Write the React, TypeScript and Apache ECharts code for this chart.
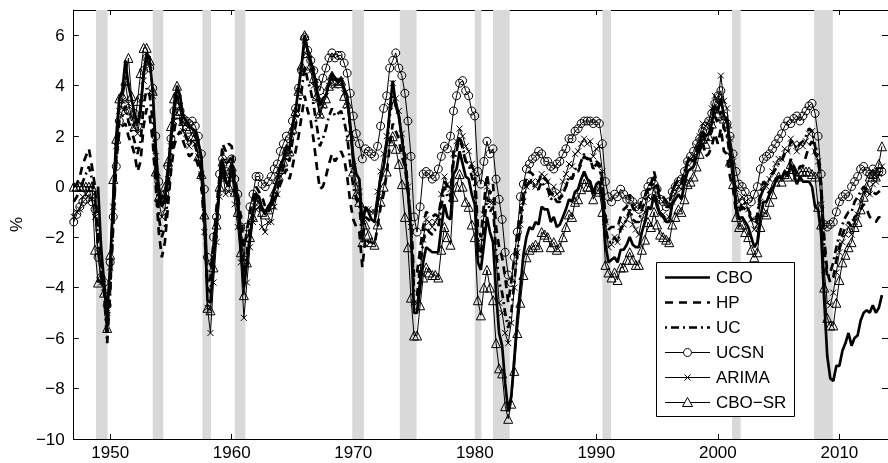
import React, { useEffect, useRef } from "react";
import * as echarts from "echarts";

const START_YEAR = 1947;
const X_MIN = 1947;
const X_MAX = 2014;
const Y_MIN = -10;
const Y_MAX = 7;
const X_TICKS = [1950, 1960, 1970, 1980, 1990, 2000, 2010];
const Y_TICKS = [-10, -8, -6, -4, -2, 0, 2, 4, 6];

const RECESSIONS: [number, number][] = [
  [1948.833, 1949.79], [1953.5, 1954.375], [1957.583, 1958.29], [1960.25, 1961.125],
  [1969.917, 1970.875], [1973.833, 1975.21], [1980.0, 1980.54], [1981.5, 1982.875],
  [1990.5, 1991.21], [2001.167, 2001.875], [2007.917, 2009.46],
];

// quarterly values, 1947Q1 .. 2013Q3
const cbo: (number | null)[] = [
  null, null, null, null, // 1947
  null, null, null, null, // 1948
  0.0, -2.4, -3.8, -5.2, // 1949
  -3.0, -0.5, 2.0, 3.5, // 1950
  3.8, 5.0, 4.0, 3.5, // 1951
  2.9, 2.5, 3.0, 4.5, // 1952
  5.3, 5.0, 3.8, 1.5, // 1953
  -0.2, -0.8, -0.5, 0.5, // 1954
  1.8, 3.0, 4.0, 3.6, // 1955
  2.8, 2.6, 2.4, 2.3, // 1956
  2.2, 1.7, 1.2, -1.0, // 1957
  -4.5, -4.6, -3.0, -1.5, // 1958
  0.0, 1.0, 0.2, 0.0, // 1959
  0.9, 0.0, -0.8, -2.5, // 1960
  -4.0, -3.0, -2.0, -1.0, // 1961
  -0.3, -0.4, -0.9, -1.0, // 1962
  -0.8, -0.6, -0.1, 0.3, // 1963
  0.8, 1.1, 1.6, 1.5, // 1964
  2.4, 3.0, 3.9, 4.8, // 1965
  6.0, 5.4, 5.0, 4.5, // 1966
  3.9, 3.2, 3.5, 3.6, // 1967
  4.1, 4.5, 4.3, 4.2, // 1968
  4.3, 3.9, 3.6, 2.5, // 1969
  1.2, 0.5, 0.3, -1.5, // 1970
  -0.8, -1.0, -1.3, -1.4, // 1971
  -0.6, 0.4, 0.8, 1.7, // 1972
  3.0, 4.2, 3.2, 2.8, // 1973
  1.9, 1.0, -0.2, -1.8, // 1974
  -5.0, -5.0, -4.0, -3.0, // 1975
  -2.4, -2.5, -2.6, -2.6, // 1976
  -2.6, -1.6, -0.7, -1.2, // 1977
  -1.3, 0.5, 0.7, 1.4, // 1978
  0.9, 0.4, 0.3, -0.3, // 1979
  -0.7, -3.0, -3.3, -2.3, // 1980
  -1.2, -1.8, -2.2, -4.2, // 1981
  -5.8, -6.3, -7.8, -8.9, // 1982
  -8.3, -6.8, -5.2, -4.0, // 1983
  -2.7, -2.0, -1.6, -1.7, // 1984
  -1.4, -1.5, -0.8, -0.9, // 1985
  -0.9, -1.4, -1.2, -1.6, // 1986
  -1.5, -1.2, -0.9, -0.5, // 1987
  -0.6, -0.2, -0.1, 0.3, // 1988
  0.6, 0.3, 0.2, -0.3, // 1989
  0.1, 0.2, -0.5, -2.3, // 1990
  -3.0, -2.9, -2.8, -3.0, // 1991
  -2.5, -2.5, -2.3, -2.0, // 1992
  -2.3, -2.4, -2.4, -1.8, // 1993
  -1.4, -0.8, -0.9, -0.3, // 1994
  -0.8, -1.1, -1.2, -1.4, // 1995
  -1.4, -0.7, -0.5, -0.3, // 1996
  -0.5, 0.1, 0.6, 0.7, // 1997
  0.8, 1.2, 1.6, 2.2, // 1998
  2.0, 2.1, 2.5, 3.2, // 1999
  3.0, 3.5, 2.8, 2.7, // 2000
  1.5, 0.6, -0.8, -1.3, // 2001
  -1.2, -1.4, -1.6, -2.0, // 2002
  -2.4, -2.2, -1.2, -0.6, // 2003
  -0.6, -0.3, -0.1, 0.2, // 2004
  0.4, 0.3, 0.6, 0.4, // 2005
  0.9, 0.5, 0.1, 0.4, // 2006
  0.2, 0.2, 0.2, 0.0, // 2007
  -0.8, -0.9, -1.9, -4.5, // 2008
  -6.7, -7.6, -7.7, -7.1, // 2009
  -7.1, -6.5, -6.2, -5.8, // 2010
  -6.3, -6.0, -5.9, -5.3, // 2011
  -5.0, -4.9, -5.0, -4.7, // 2012
  -5.0, -4.8, -4.3, // 2013
];

const hp: number[] = [
  0.0, 0.1, 0.4, 0.9, // 1947
  1.2, 1.5, 0.8, 0.0, // 1948
  -1.8, -3.0, -4.0, -5.8, // 1949
  -4.0, -1.5, 1.0, 2.2, // 1950
  2.4, 2.5, 2.0, 1.7, // 1951
  1.3, 0.6, 1.0, 2.4, // 1952
  3.1, 2.8, 1.8, 0.0, // 1953
  -1.8, -2.8, -2.2, -0.8, // 1954
  0.6, 1.6, 2.0, 2.2, // 1955
  1.8, 1.5, 1.2, 1.3, // 1956
  1.2, 0.8, 0.2, -1.8, // 1957
  -3.8, -3.6, -2.2, -0.8, // 1958
  0.4, 1.7, 1.4, 1.7, // 1959
  1.6, 0.4, -0.3, -1.2, // 1960
  -2.4, -1.8, -1.0, -0.5, // 1961
  0.0, -0.2, -0.4, -0.8, // 1962
  -1.0, -0.7, -0.5, -0.3, // 1963
  0.1, 0.4, 0.7, 0.3, // 1964
  0.8, 1.4, 2.0, 2.8, // 1965
  3.6, 3.0, 2.6, 1.8, // 1966
  0.8, -0.1, 0.0, 0.4, // 1967
  0.9, 1.3, 1.0, 1.2, // 1968
  1.4, 1.1, 0.4, -0.6, // 1969
  -1.3, -1.6, -1.8, -3.2, // 1970
  -2.0, -2.2, -2.2, -2.3, // 1971
  -1.6, -0.8, -0.3, 0.5, // 1972
  1.6, 2.5, 2.2, 1.9, // 1973
  1.2, 0.8, -0.2, -1.4, // 1974
  -3.6, -3.4, -2.5, -1.6, // 1975
  -1.0, -1.1, -1.2, -1.1, // 1976
  -1.2, -0.4, 0.2, 0.0, // 1977
  -0.4, 1.4, 1.6, 2.0, // 1978
  1.5, 1.0, 1.0, 0.8, // 1979
  0.6, -1.6, -2.0, -0.7, // 1980
  0.5, -0.3, 0.1, -1.6, // 1981
  -2.4, -2.8, -3.6, -4.6, // 1982
  -3.8, -2.8, -1.8, -1.0, // 1983
  -0.2, 0.4, 0.6, 0.5, // 1984
  0.3, 0.2, 0.5, 0.3, // 1985
  0.2, -0.3, -0.3, -0.3, // 1986
  -0.5, -0.2, 0.0, 0.4, // 1987
  0.3, 0.6, 0.6, 0.9, // 1988
  1.2, 1.1, 1.1, 0.7, // 1989
  1.0, 0.9, 0.3, -1.2, // 1990
  -1.7, -1.6, -1.6, -1.6, // 1991
  -1.2, -0.9, -0.8, -0.3, // 1992
  -0.8, -1.0, -0.9, -0.5, // 1993
  -0.4, 0.1, 0.1, 0.6, // 1994
  0.1, -0.3, -0.4, -0.6, // 1995
  -0.7, -0.1, 0.1, 0.3, // 1996
  0.1, 0.5, 0.9, 1.1, // 1997
  1.0, 1.2, 1.4, 1.8, // 1998
  1.2, 1.3, 1.6, 2.1, // 1999
  1.7, 2.3, 1.4, 1.3, // 2000
  0.4, -0.1, -1.0, -1.3, // 2001
  -0.8, -0.9, -1.0, -1.3, // 2002
  -1.5, -1.3, -0.4, -0.1, // 2003
  -0.3, -0.2, 0.0, 0.2, // 2004
  0.4, 0.4, 0.6, 0.5, // 2005
  1.1, 0.8, 0.5, 0.8, // 2006
  0.8, 1.2, 1.6, 1.8, // 2007
  1.3, 1.1, 0.1, -2.0, // 2008
  -3.4, -3.8, -3.6, -2.9, // 2009
  -2.4, -1.9, -1.6, -1.4, // 2010
  -1.6, -1.2, -1.1, -0.9, // 2011
  -0.7, -0.9, -1.2, -1.3, // 2012
  -1.4, -1.2, -1.3, // 2013
];

const uc: number[] = [
  -0.6, -0.4, -0.2, 0.2, // 1947
  0.5, 0.8, 0.3, -0.4, // 1948
  -2.4, -3.4, -4.2, -6.2, // 1949
  -4.2, -1.4, 1.2, 2.6, // 1950
  2.8, 3.2, 2.6, 2.2, // 1951
  1.8, 1.3, 1.8, 3.2, // 1952
  3.9, 3.6, 2.6, 0.6, // 1953
  -1.2, -2.0, -1.6, -0.2, // 1954
  1.2, 2.2, 2.8, 2.7, // 1955
  2.2, 2.0, 1.7, 1.8, // 1956
  1.6, 1.2, 0.6, -1.5, // 1957
  -4.0, -4.2, -2.6, -1.2, // 1958
  0.2, 1.4, 0.9, 1.0, // 1959
  1.2, 0.2, -0.5, -1.8, // 1960
  -3.4, -2.6, -1.6, -1.0, // 1961
  -0.4, -0.5, -0.8, -1.1, // 1962
  -1.0, -0.8, -0.5, -0.1, // 1963
  0.4, 0.8, 1.2, 1.0, // 1964
  1.8, 2.4, 3.0, 3.8, // 1965
  4.8, 4.2, 3.8, 3.2, // 1966
  2.4, 1.6, 1.9, 2.3, // 1967
  2.8, 3.1, 2.8, 2.9, // 1968
  3.0, 2.6, 2.0, 0.9, // 1969
  0.0, -0.5, -0.7, -2.2, // 1970
  -1.2, -1.3, -1.4, -1.4, // 1971
  -0.7, 0.2, 0.8, 1.6, // 1972
  2.8, 3.6, 3.2, 2.8, // 1973
  2.0, 1.2, 0.0, -1.4, // 1974
  -4.2, -4.3, -3.2, -2.2, // 1975
  -1.6, -1.8, -1.9, -1.7, // 1976
  -1.6, -0.8, 0.0, -0.4, // 1977
  -0.6, 1.0, 1.4, 2.0, // 1978
  1.6, 1.0, 0.9, 0.4, // 1979
  0.0, -2.4, -2.8, -1.6, // 1980
  -0.4, -1.0, -0.8, -2.6, // 1981
  -3.8, -4.2, -5.0, -5.6, // 1982
  -5.0, -3.8, -2.6, -1.6, // 1983
  -0.6, 0.0, 0.2, 0.1, // 1984
  -0.1, -0.1, 0.2, 0.0, // 1985
  -0.1, -0.5, -0.4, -0.6, // 1986
  -0.6, -0.3, 0.0, 0.4, // 1987
  0.3, 0.7, 0.7, 1.0, // 1988
  1.3, 1.1, 1.1, 0.7, // 1989
  0.9, 0.8, 0.0, -1.6, // 1990
  -2.2, -2.2, -2.0, -2.2, // 1991
  -1.7, -1.5, -1.3, -0.9, // 1992
  -1.3, -1.4, -1.4, -0.9, // 1993
  -0.6, -0.1, -0.1, 0.4, // 1994
  -0.1, -0.5, -0.6, -0.8, // 1995
  -0.8, -0.2, 0.1, 0.3, // 1996
  0.2, 0.6, 1.0, 1.2, // 1997
  1.2, 1.4, 1.7, 2.1, // 1998
  1.8, 1.9, 2.2, 2.8, // 1999
  2.5, 3.0, 2.3, 2.1, // 2000
  1.1, 0.4, -0.6, -1.0, // 2001
  -0.6, -0.7, -0.9, -1.2, // 2002
  -1.4, -1.1, -0.2, 0.2, // 2003
  0.1, 0.3, 0.5, 0.7, // 2004
  0.9, 1.0, 1.3, 1.3, // 2005
  1.8, 1.7, 1.5, 1.7, // 2006
  1.8, 2.0, 2.3, 2.2, // 2007
  1.6, 1.2, -0.2, -2.4, // 2008
  -3.6, -3.4, -3.0, -2.4, // 2009
  -1.9, -1.5, -1.2, -1.0, // 2010
  -1.0, -0.6, -0.4, -0.2, // 2011
  0.0, -0.1, -0.3, -0.2, // 2012
  -0.3, -0.2, -0.1, // 2013
];

const ucsn: number[] = [
  -1.4, -1.1, -0.8, -0.6, // 1947
  -0.5, -0.3, -0.6, -0.9, // 1948
  -2.8, -3.6, -3.8, -4.7, // 1949
  -3.0, -1.2, 0.8, 2.6, // 1950
  3.0, 3.2, 3.0, 2.6, // 1951
  2.9, 2.4, 3.5, 4.6, // 1952
  5.1, 4.7, 3.9, 2.0, // 1953
  0.2, -0.5, -0.3, 0.8, // 1954
  1.9, 3.0, 3.6, 3.0, // 1955
  2.7, 2.6, 2.5, 2.6, // 1956
  2.4, 2.0, 1.3, -0.1, // 1957
  -2.8, -3.2, -2.0, -1.2, // 1958
  0.5, 1.1, 0.6, 0.5, // 1959
  1.1, 0.3, -0.3, -1.6, // 1960
  -2.9, -1.6, -0.8, -0.3, // 1961
  0.4, 0.4, 0.1, 0.0, // 1962
  0.2, 0.4, 0.7, 0.9, // 1963
  1.4, 1.7, 2.0, 1.9, // 1964
  2.6, 3.1, 3.9, 4.6, // 1965
  5.9, 5.4, 5.0, 4.6, // 1966
  4.1, 3.8, 4.3, 4.7, // 1967
  5.1, 5.3, 5.1, 5.2, // 1968
  5.2, 4.9, 4.5, 3.7, // 1969
  2.8, 2.1, 1.7, 1.1, // 1970
  1.5, 1.4, 1.3, 1.2, // 1971
  1.6, 2.4, 3.1, 3.6, // 1972
  4.7, 5.0, 5.3, 4.7, // 1973
  4.4, 3.7, 2.6, 1.2, // 1974
  -1.2, -1.8, -0.8, 0.5, // 1975
  0.6, 0.5, 0.3, 0.4, // 1976
  0.7, 1.2, 1.6, 1.5, // 1977
  2.0, 3.0, 3.6, 4.1, // 1978
  4.2, 3.8, 3.6, 3.0, // 1979
  2.8, 0.6, 0.1, 1.0, // 1980
  1.8, 1.3, 1.5, 0.3, // 1981
  -0.5, -1.3, -2.6, -3.5, // 1982
  -3.8, -2.8, -1.8, -0.4, // 1983
  0.1, 0.7, 0.9, 1.1, // 1984
  1.2, 1.4, 1.3, 1.0, // 1985
  1.0, 0.8, 0.7, 0.9, // 1986
  1.0, 1.3, 1.5, 1.9, // 1987
  1.9, 2.2, 2.3, 2.5, // 1988
  2.6, 2.6, 2.6, 2.5, // 1989
  2.6, 2.5, 1.7, 0.2, // 1990
  -0.4, -0.6, -0.3, -0.4, // 1991
  -0.1, -0.3, -0.5, -0.5, // 1992
  -0.6, -0.8, -0.9, -0.6, // 1993
  -0.3, 0.0, 0.2, 0.1, // 1994
  -0.1, -0.5, -0.6, -0.8, // 1995
  -0.6, -0.2, 0.0, 0.2, // 1996
  0.3, 0.6, 1.0, 1.2, // 1997
  1.4, 1.7, 1.9, 2.2, // 1998
  2.4, 2.6, 2.9, 3.3, // 1999
  3.6, 3.8, 2.8, 2.5, // 2000
  2.0, 1.3, 0.6, 0.1, // 2001
  0.0, -0.2, -0.5, -0.6, // 2002
  -0.3, 0.0, 0.7, 1.1, // 2003
  1.2, 1.3, 1.5, 1.7, // 2004
  1.9, 2.1, 2.4, 2.6, // 2005
  2.5, 2.7, 2.8, 2.6, // 2006
  2.8, 3.0, 3.2, 3.3, // 2007
  2.9, 2.0, 0.5, -1.5, // 2008
  -1.6, -1.5, -1.4, -1.0, // 2009
  -0.6, -0.4, -0.3, -0.4, // 2010
  0.0, 0.2, 0.4, 0.7, // 2011
  0.8, 0.6, 0.5, 0.7, // 2012
  0.5, 0.6, 0.6, // 2013
];

const arima: number[] = [
  -1.2, -1.0, -0.9, -0.4, // 1947
  -0.3, -0.1, -0.5, -1.2, // 1948
  -2.6, -3.8, -4.0, -5.0, // 1949
  -3.2, -0.8, 1.6, 3.0, // 1950
  3.4, 4.1, 3.3, 2.8, // 1951
  2.4, 2.1, 2.8, 4.2, // 1952
  5.0, 4.8, 3.6, 1.2, // 1953
  -0.6, -1.2, -0.9, 0.3, // 1954
  1.6, 2.6, 3.6, 3.2, // 1955
  2.2, 1.9, 1.6, 1.8, // 1956
  1.7, 1.2, 0.5, -1.8, // 1957
  -4.8, -5.8, -3.8, -2.2, // 1958
  -0.4, 0.6, -0.3, -0.2, // 1959
  0.6, -0.7, -1.6, -3.0, // 1960
  -5.2, -3.8, -2.4, -1.4, // 1961
  -0.9, -0.8, -1.6, -1.8, // 1962
  -1.4, -1.4, -0.8, -0.3, // 1963
  0.4, 0.7, 1.3, 1.3, // 1964
  2.2, 2.9, 3.8, 4.6, // 1965
  5.8, 5.2, 4.6, 4.0, // 1966
  3.4, 2.8, 3.2, 3.6, // 1967
  4.0, 4.3, 4.0, 4.1, // 1968
  4.2, 3.7, 3.2, 2.1, // 1969
  0.8, 0.1, -0.2, -2.0, // 1970
  -0.9, -0.9, -1.0, -1.0, // 1971
  -0.2, 0.6, 1.3, 2.0, // 1972
  3.2, 4.1, 3.5, 3.0, // 1973
  2.1, 1.2, 0.0, -1.6, // 1974
  -4.6, -4.6, -3.4, -2.1, // 1975
  -1.3, -1.4, -1.6, -1.4, // 1976
  -1.2, -0.3, 0.4, 0.1, // 1977
  -0.1, 1.3, 1.8, 2.3, // 1978
  2.0, 1.6, 1.4, 0.9, // 1979
  0.5, -2.2, -2.5, -1.1, // 1980
  0.0, -0.6, -0.6, -2.8, // 1981
  -4.6, -5.0, -5.8, -6.2, // 1982
  -5.4, -4.0, -2.6, -1.5, // 1983
  -0.6, 0.0, 0.2, 0.2, // 1984
  0.0, 0.2, 0.5, 0.4, // 1985
  0.2, -0.3, 0.0, -0.3, // 1986
  -0.2, 0.2, 0.5, 0.9, // 1987
  0.8, 1.3, 1.4, 1.7, // 1988
  1.9, 1.7, 1.8, 1.2, // 1989
  1.5, 1.6, 0.6, -1.4, // 1990
  -2.4, -2.3, -2.0, -2.2, // 1991
  -1.6, -1.5, -1.3, -1.0, // 1992
  -1.5, -1.7, -1.9, -1.3, // 1993
  -1.0, -0.4, -0.5, 0.0, // 1994
  -0.5, -1.0, -1.1, -1.3, // 1995
  -1.2, -0.6, -0.3, 0.0, // 1996
  -0.1, 0.4, 0.9, 1.1, // 1997
  1.2, 1.6, 2.0, 2.5, // 1998
  2.4, 2.6, 3.1, 3.6, // 1999
  3.3, 4.4, 3.4, 3.1, // 2000
  1.9, 1.0, -0.1, -0.6, // 2001
  -0.4, -0.6, -0.9, -1.3, // 2002
  -1.7, -1.5, -0.6, 0.0, // 2003
  0.0, 0.3, 0.6, 0.9, // 2004
  1.1, 1.1, 1.5, 1.4, // 2005
  1.9, 1.7, 1.4, 1.7, // 2006
  1.6, 1.8, 2.1, 2.2, // 2007
  1.4, 1.0, -0.7, -3.3, // 2008
  -4.6, -4.7, -4.2, -3.4, // 2009
  -2.6, -2.2, -1.9, -1.6, // 2010
  -1.9, -1.4, -1.1, -0.6, // 2011
  -0.2, -0.2, -0.3, 0.1, // 2012
  0.2, 0.5, 0.8, // 2013
];

const cboSr: number[] = [
  0.0, 0.0, 0.0, 0.0, // 1947
  0.0, 0.0, 0.0, -2.5, // 1948
  -3.8, -3.6, -4.2, -5.6, // 1949
  -2.7, 0.3, 1.9, 3.5, // 1950
  3.6, 4.2, 5.1, 3.6, // 1951
  2.4, 3.4, 4.5, 5.5, // 1952
  5.5, 5.0, 3.8, 0.6, // 1953
  -0.4, -0.5, 0.0, 1.0, // 1954
  2.4, 3.5, 4.0, 3.0, // 1955
  2.6, 2.4, 2.3, 2.0, // 1956
  2.0, 1.2, 0.5, -1.1, // 1957
  -4.8, -4.9, -3.2, -1.5, // 1958
  0.0, 1.0, 0.4, 0.0, // 1959
  0.8, -0.2, -1.0, -2.6, // 1960
  -4.3, -3.0, -2.0, -1.2, // 1961
  -0.4, -0.7, -1.0, -1.1, // 1962
  -0.9, -0.7, -0.2, 0.3, // 1963
  0.7, 1.0, 1.5, 1.4, // 1964
  2.3, 3.0, 3.8, 4.8, // 1965
  6.0, 5.3, 4.8, 4.3, // 1966
  3.6, 2.9, 3.3, 3.5, // 1967
  4.0, 4.4, 4.2, 4.1, // 1968
  4.2, 3.6, 3.3, 2.0, // 1969
  0.6, -0.3, -0.6, -2.2, // 1970
  -1.5, -1.9, -2.2, -2.3, // 1971
  -1.5, -0.6, 0.0, 0.6, // 1972
  1.8, 2.0, 1.5, 0.9, // 1973
  0.1, -1.2, -2.4, -4.4, // 1974
  -5.9, -5.9, -4.7, -3.6, // 1975
  -3.2, -3.4, -3.5, -3.5, // 1976
  -3.6, -2.5, -1.6, -2.0, // 1977
  -2.3, -0.4, 0.0, 0.5, // 1978
  0.0, -0.6, -0.8, -1.5, // 1979
  -2.0, -4.5, -5.1, -4.0, // 1980
  -3.3, -4.0, -4.5, -6.2, // 1981
  -7.2, -7.4, -8.7, -9.2, // 1982
  -8.6, -7.3, -5.8, -4.6, // 1983
  -3.5, -2.8, -2.5, -2.4, // 1984
  -2.3, -2.4, -1.8, -1.9, // 1985
  -2.0, -2.4, -2.2, -2.5, // 1986
  -2.4, -2.0, -1.6, -1.1, // 1987
  -1.2, -0.6, -0.5, -0.1, // 1988
  0.3, 0.0, 0.0, -0.5, // 1989
  -0.1, -0.2, -1.0, -3.1, // 1990
  -3.4, -3.6, -3.4, -3.7, // 1991
  -3.2, -3.2, -2.9, -2.6, // 1992
  -2.9, -3.1, -3.1, -2.5, // 1993
  -2.1, -1.4, -1.6, -1.0, // 1994
  -1.5, -1.9, -2.0, -2.1, // 1995
  -2.2, -1.5, -1.2, -0.9, // 1996
  -1.0, -0.5, 0.1, 0.2, // 1997
  0.4, 0.8, 1.3, 1.9, // 1998
  1.7, 2.0, 2.5, 3.1, // 1999
  2.9, 3.5, 2.7, 2.5, // 2000
  1.0, 0.1, -1.2, -1.6, // 2001
  -1.5, -1.8, -2.0, -2.5, // 2002
  -2.8, -2.6, -1.6, -1.0, // 2003
  -1.1, -0.6, -0.3, 0.2, // 2004
  0.4, 0.2, 0.5, 0.4, // 2005
  0.9, 0.7, 0.4, 0.6, // 2006
  0.6, 0.6, 0.6, 0.5, // 2007
  0.4, -0.8, -1.5, -4.0, // 2008
  -5.2, -5.5, -5.5, -4.6, // 2009
  -3.7, -3.0, -2.7, -2.4, // 2010
  -2.2, -1.6, -1.4, -0.9, // 2011
  -0.4, 0.0, 0.4, 0.5, // 2012
  0.4, 0.9, 1.6, // 2013
];

const LEGEND_NAMES = ["CBO", "HP", "UC", "UCSN", "ARIMA", "CBO\u2212SR"];

const FONT = "'Liberation Sans', Arial, Helvetica, sans-serif";

function toPairs(arr: (number | null)[]): [number, number][] {
  const out: [number, number][] = [];
  arr.forEach((v, i) => {
    if (v !== null && v !== undefined) out.push([START_YEAR + i / 4, v]);
  });
  return out;
}

const minus = (v: number | string) => String(v).replace("-", "\u2212");

export default function App() {
  const ref = useRef<HTMLDivElement>(null);

  useEffect(() => {
    if (!ref.current) return;
    const chart = echarts.init(ref.current, undefined, { renderer: "svg" });

    const thin = { color: "#000", width: 1 };
    const openItem = { color: "none", borderColor: "#000", borderWidth: 1 };

    const seriesDefs: any[] = [
      {
        name: "recessions",
        type: "line",
        data: [],
        silent: true,
        z: 1,
        markArea: {
          silent: true,
          itemStyle: { color: "#d9d9d9" },
          data: RECESSIONS.map(([a, b]) => [{ xAxis: a }, { xAxis: b }]),
        },
      },
      {
        name: LEGEND_NAMES[0],
        type: "line",
        data: toPairs(cbo),
        symbol: "none",
        showSymbol: false,
        lineStyle: { color: "#000", width: 2.7 },
        z: 3,
      },
      {
        name: LEGEND_NAMES[1],
        type: "line",
        data: toPairs(hp),
        symbol: "none",
        showSymbol: false,
        lineStyle: { color: "#000", width: 2.7, type: [8, 6] },
        z: 3,
      },
      {
        name: LEGEND_NAMES[2],
        type: "line",
        data: toPairs(uc),
        symbol: "none",
        showSymbol: false,
        lineStyle: { color: "#000", width: 2.7, type: [8, 4, 2, 4] },
        z: 3,
      },
      {
        name: LEGEND_NAMES[3],
        type: "line",
        data: toPairs(ucsn),
        symbol: "circle",
        symbolSize: 8,
        showSymbol: true,
        showAllSymbol: true,
        lineStyle: thin,
        itemStyle: openItem,
        z: 4,
      },
      {
        name: LEGEND_NAMES[4],
        type: "line",
        data: toPairs(arima),
        symbol: "path://M0 0L10 10M10 0L0 10",
        symbolSize: 6,
        showSymbol: true,
        showAllSymbol: true,
        lineStyle: thin,
        itemStyle: openItem,
        z: 4,
      },
      {
        name: LEGEND_NAMES[5],
        type: "line",
        data: toPairs(cboSr),
        symbol: "triangle",
        symbolSize: 9,
        showSymbol: true,
        showAllSymbol: true,
        lineStyle: thin,
        itemStyle: openItem,
        z: 5,
      },
    ];

    // legend drawn as graphic
    const LX = 656, LY = 262, LW = 138, LH = 154;
    const Z = 100;
    const legendEls: any[] = [
      {
        type: "rect",
        z: Z,
        shape: { x: LX + 0.5, y: LY + 0.5, width: LW, height: LH },
        style: { fill: "#fff", stroke: "#000", lineWidth: 1 },
      },
    ];
    const dashes: any[] = [null, [8, 6], [2, 4, 8, 4], null, null, null];
    LEGEND_NAMES.forEach((name, i) => {
      const yy = LY + 15.5 + i * 25;
      const thick = i < 3;
      legendEls.push({
        type: "line",
        z: Z + 1,
        shape: { x1: 665, y1: yy, x2: 710, y2: yy },
        style: { stroke: "#000", lineWidth: thick ? 2.7 : 1, lineDash: dashes[i] || undefined },
      });
      const cx = 687.5;
      if (i === 3) {
        legendEls.push({ type: "circle", z: Z + 2, shape: { cx, cy: yy, r: 4 }, style: { fill: "#fff", stroke: "#000", lineWidth: 1 } });
      } else if (i === 4) {
        legendEls.push({ type: "line", z: Z + 2, shape: { x1: cx - 3, y1: yy - 3, x2: cx + 3, y2: yy + 3 }, style: { stroke: "#000", lineWidth: 1 } });
        legendEls.push({ type: "line", z: Z + 2, shape: { x1: cx - 3, y1: yy + 3, x2: cx + 3, y2: yy - 3 }, style: { stroke: "#000", lineWidth: 1 } });
      } else if (i === 5) {
        legendEls.push({
          type: "polygon",
          z: Z + 2,
          shape: { points: [[cx, yy - 5], [cx + 5, yy + 4], [cx - 5, yy + 4]] },
          style: { fill: "#fff", stroke: "#000", lineWidth: 1 },
        });
      }
      legendEls.push({
        type: "text",
        z: Z + 2,
        style: { text: name, x: 716, y: yy, fontSize: 17, fontFamily: FONT, fill: "#000", verticalAlign: "middle", align: "left" },
      });
    });

    const tickStyle = { color: "#000", width: 1 };

    chart.setOption({
      animation: false,
      textStyle: { fontFamily: FONT },
      grid: { left: 66, right: 0, top: 10, bottom: 24, containLabel: false },
      xAxis: [
        {
          type: "value",
          min: X_MIN,
          max: X_MAX,
          position: "bottom",
          axisLine: { show: true, onZero: false, lineStyle: { color: "#000", width: 1 } },
          axisTick: { show: true, inside: true, length: 5, customValues: X_TICKS, lineStyle: tickStyle },
          axisLabel: {
            show: true,
            customValues: X_TICKS,
            fontSize: 17,
            color: "#000",
            margin: 5,
            fontFamily: FONT,
            formatter: (v: number) => String(v),
          },
          splitLine: { show: false },
        },
        {
          type: "value",
          min: X_MIN,
          max: X_MAX,
          position: "top",
          axisLine: { show: true, onZero: false, lineStyle: { color: "#000", width: 1 } },
          axisTick: { show: true, inside: true, length: 5, customValues: X_TICKS, lineStyle: tickStyle },
          axisLabel: { show: false },
          splitLine: { show: false },
        },
      ],
      yAxis: [
        {
          type: "value",
          min: Y_MIN,
          max: Y_MAX,
          position: "left",
          name: "%",
          nameLocation: "middle",
          nameGap: 44,
          nameRotate: 90,
          nameTextStyle: { fontSize: 17, color: "#000", fontFamily: FONT },
          axisLine: { show: true, onZero: false, lineStyle: { color: "#000", width: 1 } },
          axisTick: { show: true, inside: true, length: 5, customValues: Y_TICKS, lineStyle: tickStyle },
          axisLabel: {
            show: true,
            customValues: Y_TICKS,
            fontSize: 17,
            color: "#000",
            margin: 9,
            fontFamily: FONT,
            formatter: (v: number) => minus(v),
          },
          splitLine: { show: false },
        },
        {
          type: "value",
          min: Y_MIN,
          max: Y_MAX,
          position: "right",
          axisLine: { show: true, onZero: false, lineStyle: { color: "#000", width: 1 } },
          axisTick: { show: true, inside: true, length: 6, customValues: Y_TICKS, lineStyle: tickStyle },
          axisLabel: { show: false },
          splitLine: { show: false },
        },
      ],
      series: seriesDefs,
      graphic: [{ type: "group", z: Z, children: legendEls }],
    });

    return () => chart.dispose();
  }, []);

  return <div ref={ref} style={{ width: 888, height: 463, position: "fixed", left: 0, top: 0 }} />;
}
